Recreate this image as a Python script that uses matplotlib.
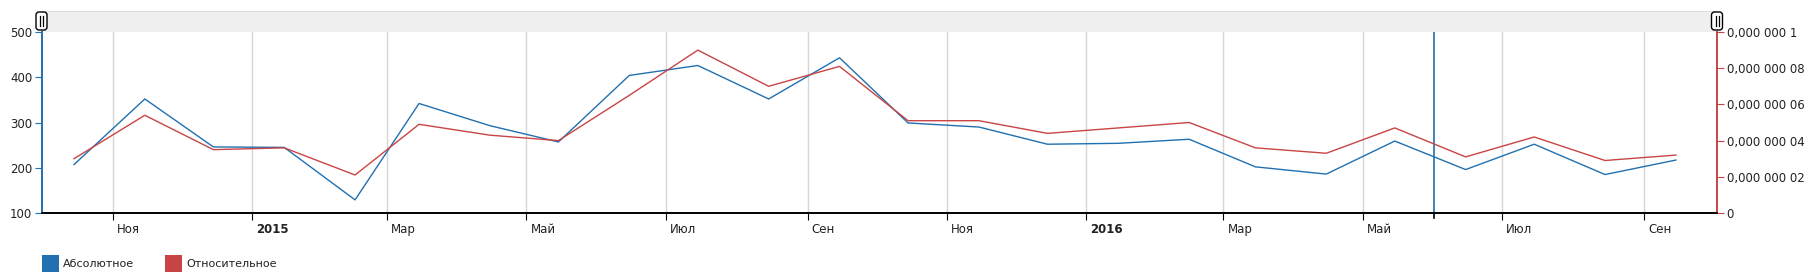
import matplotlib
matplotlib.use('Agg')

import matplotlib.pyplot as plt
import matplotlib.dates as mdates
import matplotlib.transforms as mtransforms
from matplotlib.patches import Rectangle, FancyBboxPatch
from matplotlib.lines import Line2D
from matplotlib.ticker import FuncFormatter, MultipleLocator
import numpy as np
import pandas as pd

# monthly points (drawn mid-month)
months = ['2014-10', '2014-11', '2014-12', '2015-01', '2015-02', '2015-03',
          '2015-04', '2015-05', '2015-06', '2015-07', '2015-08', '2015-09',
          '2015-10', '2015-11', '2015-12', '2016-01', '2016-02', '2016-03',
          '2016-04', '2016-05', '2016-06', '2016-07', '2016-08', '2016-09']
absolute = [207, 352, 246, 245, 129, 342, 293, 257, 404, 426, 352, 443,
            299, 290, 252, 254, 263, 202, 186, 259, 196, 252, 185, 217]
relative = [3.0e-8, 5.4e-8, 3.5e-8, 3.6e-8, 2.1e-8, 4.9e-8, 4.3e-8, 4.0e-8,
            6.5e-8, 9.0e-8, 7.0e-8, 8.1e-8, 5.1e-8, 5.1e-8, 4.4e-8, 4.7e-8,
            5.0e-8, 3.6e-8, 3.3e-8, 4.7e-8, 3.1e-8, 4.2e-8, 2.9e-8, 3.2e-8]
series_names = ['Абсолютное', 'Относительное']
month_names = {1: '', 3: 'Мар', 5: 'Май', 7: 'Июл', 9: 'Сен', 11: 'Ноя'}
cursor_date = '2016-06-01'

BLUE = '#2170b0'
RED = '#c94444'

dates = pd.to_datetime([m + '-15' for m in months])

plt.rcParams['font.family'] = ['DejaVu Sans']
fig = plt.figure(figsize=(18.09, 2.76), dpi=100)
W, H = 1809, 276
left, right, top, bottom = 42, 1717, 32, 213
ax = fig.add_axes([left / W, 1 - bottom / H, (right - left) / W, (bottom - top) / H])
ax2 = ax.twinx()

ax.plot(dates, absolute, color=BLUE, lw=1.0, zorder=3)
ax2.plot(dates, relative, color=RED, lw=1.0, zorder=3)

ax.set_xlim(pd.Timestamp('2014-10-01'), pd.Timestamp('2016-10-03'))
ax.set_ylim(100, 500)
ax2.set_ylim(0, 1e-7)

# x axis: ticks every two months, years in bold
ax.xaxis.set_major_locator(mdates.MonthLocator(bymonth=[1, 3, 5, 7, 9, 11]))

def xfmt(v, pos):
    d = mdates.num2date(v)
    if d.month == 1:
        return str(d.year)
    return month_names[d.month]

ax.xaxis.set_major_formatter(FuncFormatter(xfmt))
ax.grid(axis='x', color='#d6d6d6', lw=1)
ax.set_axisbelow(True)
ax.tick_params(axis='x', length=5, color='black', labelsize=8.5, labelcolor='#222222', pad=2)
offset = mtransforms.ScaledTranslation(4 / 100, 0, fig.dpi_scale_trans)
for lab in ax.get_xticklabels():
    lab.set_horizontalalignment('left')
    lab.set_transform(lab.get_transform() + offset)
    if lab.get_text().isdigit():
        lab.set_fontweight('bold')

# left axis
ax.yaxis.set_major_locator(MultipleLocator(100))
ax.tick_params(axis='y', length=5, color=BLUE, labelsize=8.5, labelcolor='#222222', pad=2)

# right axis
def rfmt(v, pos):
    if abs(v) < 1e-12:
        return '0'
    s = f'{v:.9f}'.rstrip('0')
    ip, dp = s.split('.')
    groups = [dp[i:i + 3] for i in range(0, len(dp), 3)]
    return ip + ',' + ' '.join(groups)

ax2.yaxis.set_major_locator(MultipleLocator(2e-8))
ax2.yaxis.set_major_formatter(FuncFormatter(rfmt))
ax2.tick_params(axis='y', length=5, color=RED, labelsize=8.5, labelcolor='#222222', pad=2)

for a in (ax, ax2):
    a.spines['top'].set_visible(False)
    a.spines['bottom'].set_color('black')
    a.spines['bottom'].set_linewidth(1.2)
    a.spines['left'].set_color(BLUE)
    a.spines['right'].set_color(RED)
    a.spines['left'].set_linewidth(1.2)
    a.spines['right'].set_linewidth(1.2)

# cursor line
ax.axvline(pd.Timestamp(cursor_date), ymin=0, ymax=1, color=BLUE, lw=1.2, zorder=4)
ax.axvline(pd.Timestamp(cursor_date), ymin=-0.03, ymax=0, color='black', lw=1.2,
           clip_on=False, zorder=4)

# scrollbar band above the plot (pixel coords, origin bottom-left)
px = mtransforms.IdentityTransform()
fig.add_artist(Rectangle((left, H - 32), right - left, 21, transform=px,
                         facecolor='#efefef', edgecolor='#dddddd', lw=0.8, zorder=0))
for hx in (41.5, 1717):
    fig.add_artist(FancyBboxPatch((hx - 5.5, H - 30), 11, 18,
                                  boxstyle='round,pad=0,rounding_size=3',
                                  transform=px, facecolor='white',
                                  edgecolor='black', lw=1, zorder=5))
    for dx in (-1.5, 1.5):
        fig.add_artist(Line2D([hx + dx, hx + dx], [H - 26, H - 16], transform=px,
                              color='black', lw=0.9, zorder=6))

# legend
for i, (name, col) in enumerate(zip(series_names, [BLUE, RED])):
    x0 = [42, 165][i]
    fig.add_artist(Rectangle((x0, H - 272), 17, 17, transform=px,
                             facecolor=col, edgecolor='none'))
    fig.text((x0 + 21) / W, 1 - 264 / H, name, fontsize=8, ha='left', va='center',
             color='#222222')

fig.savefig('out.png', dpi=100)
